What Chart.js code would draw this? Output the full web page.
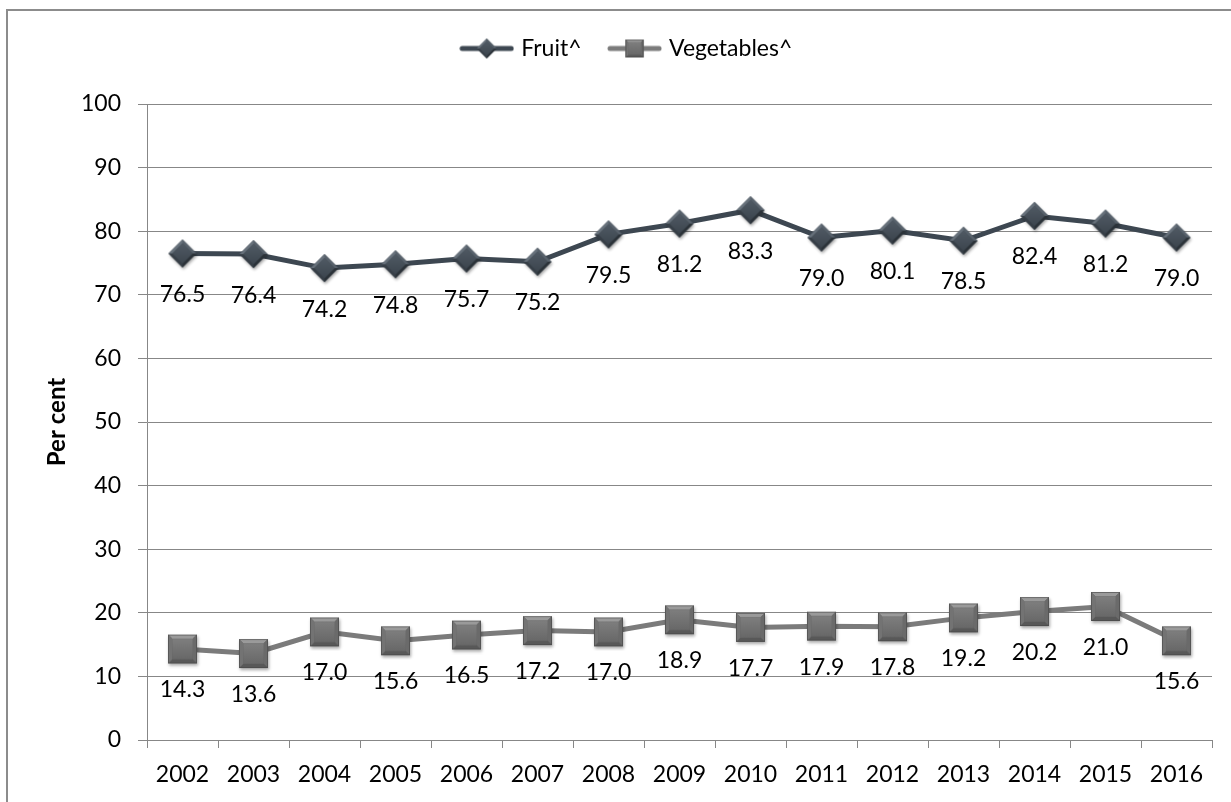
<!DOCTYPE html>
<html><head><meta charset="utf-8">
<script src="https://cdn.jsdelivr.net/npm/chart.js@4.4.1/dist/chart.umd.min.js"></script>
<style>html,body{margin:0;padding:0;background:#fff;overflow:hidden}canvas{display:block}</style>
</head><body>
<canvas id="c" width="1231" height="802"></canvas>
<script>
// ---- data ----
const years = ['2002','2003','2004','2005','2006','2007','2008','2009','2010','2011','2012','2013','2014','2015','2016'];
const fruit = [76.5,76.4,74.2,74.8,75.7,75.2,79.5,81.2,83.3,79.0,80.1,78.5,82.4,81.2,79.0];
const vegetables = [14.3,13.6,17.0,15.6,16.5,17.2,17.0,18.9,17.7,17.9,17.8,19.2,20.2,21.0,15.6];
const seriesNames = ['Fruit^','Vegetables^'];
const yAxisTitle = 'Per cent';
const yMin = 0, yMax = 100, yStep = 10;

// ---- styles ----
const FONT = 'Lato';
const GRID = '#878787';
const FRUIT_LINE = '#3d4751';
const VEG_LINE = '#7b7b7b';

function poly(ctx, pts, fill){ctx.beginPath();ctx.moveTo(pts[0][0],pts[0][1]);for(let i=1;i<pts.length;i++)ctx.lineTo(pts[i][0],pts[i][1]);ctx.closePath();ctx.fillStyle=fill;ctx.fill();}

function drawDiamond(ctx, cx, cy, h, shadow){
  const b = Math.max(2, h*0.28);
  ctx.save();
  if(shadow){ctx.shadowColor='rgba(0,0,0,0.35)';ctx.shadowBlur=3;ctx.shadowOffsetX=1;ctx.shadowOffsetY=2;}
  poly(ctx,[[cx,cy-h],[cx+h,cy],[cx,cy+h],[cx-h,cy]],'#3a434c');
  ctx.restore();
  const i=h-b;
  const T=[cx,cy-h],R=[cx+h,cy],B=[cx,cy+h],L=[cx-h,cy];
  const iT=[cx,cy-i],iR=[cx+i,cy],iB=[cx,cy+i],iL=[cx-i,cy];
  poly(ctx,[L,T,iT,iL],'#66707a');
  poly(ctx,[T,R,iR,iT],'#57616b');
  poly(ctx,[R,B,iB,iR],'#2b3238');
  poly(ctx,[B,L,iL,iB],'#363e46');
  const g=ctx.createLinearGradient(cx,cy-i,cx,cy+i);g.addColorStop(0,'#505a64');g.addColorStop(1,'#3c454e');
  poly(ctx,[iT,iR,iB,iL],g);
}
function drawSquare(ctx, cx, cy, h, shadow){
  const b = Math.max(2, h*0.3);
  ctx.save();
  if(shadow){ctx.shadowColor='rgba(0,0,0,0.35)';ctx.shadowBlur=3;ctx.shadowOffsetX=1;ctx.shadowOffsetY=2;}
  poly(ctx,[[cx-h,cy-h],[cx+h,cy-h],[cx+h,cy+h],[cx-h,cy+h]],'#606060');
  ctx.restore();
  const i=h-b;
  const TL=[cx-h,cy-h],TR=[cx+h,cy-h],BR=[cx+h,cy+h],BL=[cx-h,cy+h];
  const iTL=[cx-i,cy-i],iTR=[cx+i,cy-i],iBR=[cx+i,cy+i],iBL=[cx-i,cy+i];
  poly(ctx,[TL,TR,iTR,iTL],'#9a9a9a');
  poly(ctx,[TR,BR,iBR,iTR],'#6a6a6a');
  poly(ctx,[BR,BL,iBL,iBR],'#585858');
  poly(ctx,[BL,TL,iTL,iBL],'#737373');
  const g=ctx.createLinearGradient(cx,cy-i,cx,cy+i);g.addColorStop(0,'#7e7e7e');g.addColorStop(1,'#686868');
  poly(ctx,[iTL,iTR,iBR,iBL],g);
  ctx.strokeStyle='rgba(70,70,70,0.6)';ctx.lineWidth=1;ctx.strokeRect(cx-h+0.5,cy-h+0.5,2*h-1,2*h-1);
}
function markerImage(kind, h){
  const m=5, s=Math.ceil(2*h+2*m);
  const c=document.createElement('canvas');c.width=s;c.height=s;
  const ctx=c.getContext('2d');
  if(kind==='diamond')drawDiamond(ctx,s/2,s/2,h,true);else drawSquare(ctx,s/2,s/2,h,true);
  return c;
}
function legendImage(kind, color){
  const W=55,H=26;
  const c=document.createElement('canvas');c.width=W;c.height=H;
  const ctx=c.getContext('2d');
  ctx.strokeStyle=color;ctx.lineWidth=5;ctx.lineCap='round';
  ctx.beginPath();ctx.moveTo(3,H/2);ctx.lineTo(W-3,H/2);ctx.stroke();
  if(kind==='diamond')drawDiamond(ctx,W/2,H/2,10,false);else drawSquare(ctx,W/2,H/2,9,false);
  return c;
}

const fruitMarker = markerImage('diamond',14);
const vegMarker = markerImage('square',14.5);
const fruitLegend = legendImage('diamond',FRUIT_LINE);
const vegLegend = legendImage('square',VEG_LINE);

const frame = {
  id:'frame',
  beforeDraw(chart){
    const ctx=chart.ctx;ctx.save();
    ctx.fillStyle='#fff';ctx.fillRect(0,0,chart.width,chart.height);
    ctx.fillStyle='#8c8c8c';
    ctx.fillRect(6,9,chart.width-6,2);
    ctx.fillRect(6,9,2,chart.height-9);
    ctx.restore();
  }
};
const dataLabels = {
  id:'dataLabels',
  afterDatasetsDraw(chart){
    const ctx=chart.ctx;ctx.save();
    ctx.font='23px '+FONT;ctx.fillStyle='#000';ctx.textAlign='center';ctx.textBaseline='middle';
    chart.data.datasets.forEach((ds,i)=>{
      const meta=chart.getDatasetMeta(i);
      meta.data.forEach((pt,j)=>{ctx.fillText(ds.data[j].toFixed(1),pt.x,pt.y+41);});
    });
    ctx.restore();
  }
};

Chart.defaults.font.family = FONT;
Chart.defaults.color = '#000';

new Chart(document.getElementById('c'),{
  type:'line',
  data:{
    labels:years,
    datasets:[
      {label:seriesNames[0],data:fruit,borderColor:FRUIT_LINE,borderWidth:5,pointStyle:fruitMarker,pointRadius:14,tension:0,legendImg:fruitLegend},
      {label:seriesNames[1],data:vegetables,borderColor:VEG_LINE,borderWidth:5,pointStyle:vegMarker,pointRadius:14,tension:0,legendImg:vegLegend}
    ]
  },
  options:{
    responsive:false,
    animation:false,
    devicePixelRatio:1,
    layout:{padding:{left:43,right:18,top:7,bottom:0}},
    plugins:{
      tooltip:{enabled:false},
      legend:{
        position:'top',
        labels:{
          font:{size:23,family:FONT},
          color:'#000',
          usePointStyle:true,
          pointStyleWidth:46,
          padding:30,
          generateLabels(chart){
            return chart.data.datasets.map((ds,i)=>({text:ds.label,pointStyle:ds.legendImg,datasetIndex:i,hidden:false,lineWidth:0,fontColor:'#000'}));
          }
        }
      },
      subtitle:{display:true,text:'',position:'top',weight:500,font:{size:10,lineHeight:1},padding:{top:3,bottom:21}}
    },
    scales:{
      x:{
        offset:true,
        grid:{offset:true,drawOnChartArea:false,drawTicks:true,tickLength:8,color:GRID},
        border:{color:GRID,width:1},
        ticks:{font:{size:23},color:'#000',padding:13,maxRotation:0,autoSkip:false},
        afterFit(s){s.height=62;}
      },
      y:{
        min:yMin,max:yMax,
        ticks:{stepSize:yStep,font:{size:23},color:'#000',padding:17},
        grid:{color:GRID,tickLength:9},
        border:{color:GRID,width:1},
        title:{display:true,text:yAxisTitle,font:{size:24,weight:'bold'},color:'#000',padding:{top:0,bottom:0}},
        afterFit(s){s.width=104;}
      }
    }
  },
  plugins:[frame,dataLabels]
});
</script>
</body></html>
